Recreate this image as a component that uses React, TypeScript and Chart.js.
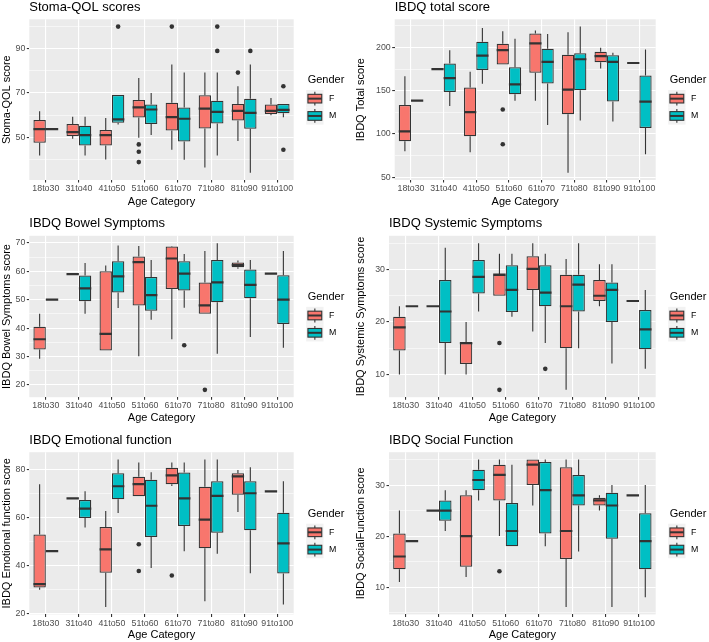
import React, { useEffect, useRef } from "react";
import { Chart, registerables } from "chart.js";

Chart.register(...registerables);

const FAMILY = "'Liberation Sans', Arial, Helvetica, sans-serif";
Chart.defaults.font.family = FAMILY;

const categories = ["18to30", "31to40", "41to50", "51to60", "61to70", "71to80", "81to90", "91to100"];
const genders = ["F", "M"];
const genderColors = ["#F8766D", "#00BFC4"];

// Each row: [lower whisker, Q1, median, Q3, upper whisker], one row per age category
const stomaF = [
  [41.7, 47.4, 53.6, 57.7, 61.7], [49.3, 50.5, 52.3, 55.9, 59.2], [39.9, 46.2, 50.9, 53.2, 58.7], [49.7, 58.9, 63.5, 66.8, 76.8],
  [44.3, 53, 59, 65.5, 82.8], [36.3, 53.9, 62.9, 68.9, 79.2], [48.2, 57.5, 61.9, 65, 73], [59.9, 60.5, 61.9, 64.7, 67.7],
];
const stomaM = [
  [53.6, 53.6, 53.6, 53.6, 53.6], [41.7, 46.2, 50.9, 55.1, 59.2], [55.7, 56.5, 58, 69, 69], [50.9, 55.9, 62.5, 64.7, 70],
  [39.8, 48, 58.3, 63.4, 79.2], [41.7, 56.2, 61.4, 66.5, 79.2], [33.9, 53.8, 61, 67.4, 82.8], [59, 60.8, 62.3, 65, 65],
];
const stomaOutF = [[], [], [], [46.7, 43.4, 38.7], [100], [], [79.2], []];
const stomaOutM = [[], [], [100], [], [], [100, 89], [89], [73, 44.3]];
const stomaMajor = [50, 70, 90];
const stomaMinor = [40, 60, 80, 100];

const totalF = [
  [80.2, 91.6, 103, 133.6, 166.8], [174.8, 174.8, 174.8, 174.8, 174.8], [79, 97.3, 125.2, 153.8, 171.8], [180.2, 180.2, 196.9, 204.2, 218.7],
  [138.5, 170.6, 204.6, 216, 219.5], [55.3, 122.9, 151.3, 191.6, 217.6], [175.6, 182.8, 190, 195, 199.6], [182, 182, 182, 182, 182],
];
const totalM = [
  [138.5, 138.5, 138.5, 138.5, 138.5], [132.4, 148.5, 164.5, 181.3, 196.6], [158, 174, 190.5, 206.5, 222.5], [138.5, 145.8, 157.3, 177.1, 209.9],
  [110.3, 158.4, 183.2, 198.5, 215.6], [115.6, 150.4, 186.3, 193.1, 224], [114.5, 137.4, 183.2, 190.8, 193.9], [76.7, 106.9, 137.4, 167.6, 197.7],
];
const totalOutF = [[], [], [], [128.2, 88.2], [], [], [], []];
const totalOutM = [[], [], [], [], [], [], [], []];
const totalMajor = [50, 100, 150, 200];
const totalMinor = [75, 125, 175, 225];

const bowelF = [
  [29.2, 32.5, 36.1, 40.5, 45.1], [59, 59, 59, 59, 59], [32.1, 32.1, 38, 60, 62], [30.1, 48, 63.2, 65.2, 68.9],
  [36.1, 53.8, 64.5, 68.7, 68.9], [45.1, 45.1, 48, 56.1, 67.1], [60.9, 61.4, 62.2, 63.1, 63.8], [59.2, 59.2, 59.2, 59.2, 59.2],
];
const bowelM = [
  [50, 50, 50, 50, 50], [45.1, 49.5, 54, 58.5, 62.9], [47.1, 52.5, 58.2, 63.5, 69.1], [43, 46.1, 51.6, 58, 64],
  [47.2, 53.2, 59.2, 63.5, 66.1], [31, 49.1, 56.1, 64, 69.9], [36.9, 50.5, 55.2, 60.6, 64], [33.1, 41.5, 50, 58.6, 67.1],
];
const bowelOutF = [[], [], [], [], [], [18.3], [], []];
const bowelOutM = [[], [], [], [], [34], [], [], []];
const bowelMajor = [20, 30, 40, 50, 60, 70];
const bowelMinor = [25, 35, 45, 55, 65];

const systemicF = [
  [10, 14.6, 19, 21, 23], [23, 23, 23, 23, 23], [10, 12, 16, 16, 20], [25, 25, 29, 29, 33],
  [18.2, 26.1, 30.1, 32.5, 35], [7.1, 15, 23, 29, 32], [23, 24, 25, 28, 31], [24, 24, 24, 24, 24],
];
const systemicM = [
  [23, 23, 23, 23, 23], [10, 16, 22, 28, 34.1], [22, 25.4, 28.6, 31.8, 35], [21, 21.9, 26.1, 30.8, 33],
  [16, 23, 25.6, 30.8, 33], [15, 22, 27.1, 29, 35], [12.1, 20, 26.1, 27.5, 31], [11.1, 14.8, 18.6, 22.3, 26.1],
];
const systemicOutF = [[], [], [], [16, 7.1], [], [], [], []];
const systemicOutM = [[], [], [], [], [11.1], [], [], []];
const systemicMajor = [10, 20, 30];
const systemicMinor = [15, 25, 35];

const emotionalF = [
  [30.1, 31, 32.4, 53, 73.9], [68.1, 68.1, 68.1, 68.1, 68.1], [22.9, 37.2, 46.9, 56.2, 62.8], [69, 69, 74, 77.1, 83],
  [73.2, 73.9, 77.6, 80.8, 83], [25.3, 47.3, 59.2, 72.9, 84.2], [62.4, 69.6, 77.2, 78.5, 79.9], [71, 71, 71, 71, 71],
];
const emotionalM = [
  [46.1, 46.1, 46.1, 46.1, 46.1], [56, 59.9, 63.8, 67.4, 71], [62, 67.7, 73.1, 78.5, 84.2], [39.1, 52, 65, 75.8, 78.9],
  [46.1, 56.6, 68.1, 78.8, 83], [45, 53.8, 69.1, 75.2, 84.2], [36.9, 54.8, 70.2, 75.2, 81], [24, 36.8, 49.4, 62.1, 75.2],
];
const emotionalOutF = [[], [], [], [49, 37.9], [36], [], [], []];
const emotionalOutM = [[], [], [], [], [], [], [], []];
const emotionalMajor = [20, 40, 60, 80];
const emotionalMinor = [30, 50, 70];

const socialF = [
  [11, 13.5, 16, 20.5, 25], [25, 25, 25, 25, 25], [12, 14, 20, 28, 29], [20, 27, 32, 34, 35],
  [26, 30, 34, 35, 35], [6.1, 15.5, 21, 33.5, 35], [25, 26, 27, 27.5, 28], [28, 28, 28, 28, 28],
];
const socialM = [
  [19, 19, 19, 19, 19], [21, 23, 25, 27, 29], [27, 29, 31, 33, 35], [18, 18, 21, 26.5, 34],
  [18, 20.5, 29, 34.5, 35], [17, 26, 28, 32, 35], [6.1, 19.5, 26, 28.5, 30], [8, 13.5, 19, 24.5, 30],
];
const socialOutF = [[], [], [], [13.1], [], [], [], []];
const socialOutM = [[], [], [], [], [], [], [], []];
const socialMajor = [10, 20, 30];
const socialMinor = [5, 15, 25, 35];

const panels = [
  { title: "Stoma-QOL scores", yTitle: "Stoma-QOL score", f: stomaF, m: stomaM, outF: stomaOutF, outM: stomaOutM, major: stomaMajor, minor: stomaMinor },
  { title: "IBDQ total score", yTitle: "IBDQ Total score", f: totalF, m: totalM, outF: totalOutF, outM: totalOutM, major: totalMajor, minor: totalMinor },
  { title: "IBDQ Bowel Symptoms", yTitle: "IBDQ Bowel Symptoms score", f: bowelF, m: bowelM, outF: bowelOutF, outM: bowelOutM, major: bowelMajor, minor: bowelMinor },
  { title: "IBDQ Systemic Symptoms", yTitle: "IBDQ Systemic Symptoms score", f: systemicF, m: systemicM, outF: systemicOutF, outM: systemicOutM, major: systemicMajor, minor: systemicMinor },
  { title: "IBDQ Emotional function", yTitle: "IBDQ Emotional function score", f: emotionalF, m: emotionalM, outF: emotionalOutF, outM: emotionalOutM, major: emotionalMajor, minor: emotionalMinor },
  { title: "IBDQ Social Function", yTitle: "IBDQ SocialFunction score", f: socialF, m: socialM, outF: socialOutF, outM: socialOutM, major: socialMajor, minor: socialMinor },
];

// Layout of each panel cell (pixels)
const layouts = [
  { x: 0, y: 0, w: 354, h: 213, left: 29.3, right: 293.7, top: 19.3, bottom: 180, xTitleMid: 201.5 },
  { x: 354, y: 0, w: 355, h: 213, left: 40.7, right: 301.7, top: 19.3, bottom: 180, xTitleMid: 201.5 },
  { x: 0, y: 213, w: 354, h: 214, left: 29.3, right: 293.7, top: 22.8, bottom: 184.2, xTitleMid: 205 },
  { x: 354, y: 213, w: 355, h: 214, left: 35, right: 301.7, top: 22.8, bottom: 184.2, xTitleMid: 205 },
  { x: 0, y: 427, w: 354, h: 215, left: 29.3, right: 293.7, top: 25.2, bottom: 187.4, xTitleMid: 208.5 },
  { x: 354, y: 427, w: 355, h: 215, left: 35, right: 301.7, top: 25.2, bottom: 187.4, xTitleMid: 208.5 },
];

const DODGE = 0.1875;
const INK = "#333333";

const panelBg = {
  id: "panelBg",
  beforeDraw(chart: any) {
    const { ctx, chartArea: a } = chart;
    ctx.save();
    ctx.fillStyle = "#EBEBEB";
    ctx.fillRect(a.left, a.top, a.right - a.left, a.bottom - a.top);
    ctx.restore();
  },
};

const ggLegend = {
  id: "ggLegend",
  afterDraw(chart: any) {
    const { ctx, chartArea: a } = chart;
    const cy = (a.top + a.bottom) / 2;
    const kx = a.right + 12.5;
    const ks = 17.3;
    ctx.save();
    ctx.textAlign = "left";
    ctx.textBaseline = "middle";
    ctx.fillStyle = "#000000";
    ctx.font = `11px ${FAMILY}`;
    ctx.fillText("Gender", kx + 1.5, cy - 19.3);
    genders.forEach((g, j) => {
      const kc = cy - 1 + j * ks;
      const ky = kc - ks / 2;
      ctx.fillStyle = "#F2F2F2";
      ctx.fillRect(kx, ky, ks, ks);
      ctx.strokeStyle = INK;
      ctx.lineWidth = 1.1;
      ctx.beginPath();
      ctx.moveTo(kx + ks / 2, ky + ks * 0.1);
      ctx.lineTo(kx + ks / 2, ky + ks * 0.9);
      ctx.stroke();
      ctx.fillStyle = genderColors[j];
      ctx.fillRect(kx + ks * 0.1, ky + ks * 0.25, ks * 0.8, ks * 0.5);
      ctx.strokeRect(kx + ks * 0.1, ky + ks * 0.25, ks * 0.8, ks * 0.5);
      ctx.lineWidth = 2;
      ctx.beginPath();
      ctx.moveTo(kx + ks * 0.1, kc);
      ctx.lineTo(kx + ks * 0.9, kc);
      ctx.stroke();
      ctx.fillStyle = "#000000";
      ctx.font = `8.8px ${FAMILY}`;
      ctx.fillText(g, kx + ks + 5.5, kc);
    });
    ctx.restore();
  },
};

function buildConfig(p: any, lay: any) {
  const all = [...p.f.flat(), ...p.m.flat(), ...p.outF.flat(), ...p.outM.flat()];
  const lo = Math.min(...all);
  const hi = Math.max(...all);
  const ex = (hi - lo) * 0.05;
  const ymin = lo - ex;
  const ymax = hi + ex;
  const tickValues = [...p.major, ...p.minor].filter((v) => v >= ymin && v <= ymax).sort((a, b) => a - b);
  const isMajor = (v: number) => p.major.includes(v);

  const boxes = (s: number[][], off: number) => s.map((r, i) => ({ x: i + off, y: [r[1], r[3]] }));
  const whiskers = (s: number[][], off: number) =>
    s.flatMap((r, i) => [
      { x: i + off, y: r[0] }, { x: i + off, y: r[1] }, { x: i + off, y: null },
      { x: i + off, y: r[3] }, { x: i + off, y: r[4] }, { x: i + off, y: null },
    ]);
  const medians = (s: number[][], off: number) =>
    s.flatMap((r, i) => [
      { x: i + off - DODGE, y: r[2] }, { x: i + off + DODGE, y: r[2] }, { x: i + off, y: null },
    ]);
  const outliers = [
    ...p.outF.flatMap((o: number[], i: number) => o.map((v) => ({ x: i - DODGE, y: v }))),
    ...p.outM.flatMap((o: number[], i: number) => o.map((v) => ({ x: i + DODGE, y: v }))),
  ];

  const padTop = Math.max(0, lay.top - 19.8);
  const titlePadBottom = lay.top - padTop - 15.6;
  const xh = lay.h - lay.bottom;
  const xTitlePad = Math.max(0, lay.h - 6.6 - lay.xTitleMid);

  const lineDs = (label: string, data: any[], width: number, order: number) => ({
    type: "line",
    label,
    data,
    xAxisID: "x2",
    yAxisID: "y",
    borderColor: INK,
    borderWidth: width,
    pointRadius: 0,
    pointHitRadius: 0,
    spanGaps: false,
    fill: false,
    tension: 0,
    order,
  });

  const boxDs = (label: string, data: any[], color: string) => ({
    type: "bar",
    label,
    data,
    xAxisID: "x2",
    yAxisID: "y",
    backgroundColor: color,
    borderColor: INK,
    borderWidth: 1.25,
    borderSkipped: false,
    grouped: false,
    categoryPercentage: 1,
    barPercentage: 1,
    inflateAmount: 0,
    order: 3,
  });

  return {
    type: "bar",
    data: {
      labels: categories,
      datasets: [
        boxDs("F", boxes(p.f, -DODGE), genderColors[0]),
        boxDs("M", boxes(p.m, DODGE), genderColors[1]),
        lineDs("whiskers F", whiskers(p.f, -DODGE), 1.1, 4),
        lineDs("whiskers M", whiskers(p.m, DODGE), 1.1, 4),
        lineDs("median F", medians(p.f, -DODGE), 2.2, 1),
        lineDs("median M", medians(p.m, DODGE), 2.2, 1),
        {
          type: "line", label: "outliers", data: outliers, xAxisID: "x2", yAxisID: "y", showLine: false,
          pointRadius: 2.3, pointBackgroundColor: INK, pointBorderColor: INK, pointBorderWidth: 0, order: 0,
        },
      ],
    },
    options: {
      responsive: false,
      animation: false,
      events: [],
      layout: { padding: { top: padTop, left: 0, right: lay.w - lay.right, bottom: 0 } },
      plugins: {
        legend: { display: false },
        tooltip: { enabled: false },
        title: {
          display: true, text: p.title, align: "start", fullSize: false, color: "#000000",
          font: { size: 13, weight: "normal", family: FAMILY, lineHeight: 1.2 },
          padding: { top: 0, bottom: titlePadBottom },
        },
      },
      scales: {
        x: {
          type: "category",
          offset: true,
          afterFit: (s: any) => { s.height = xh; },
          grid: { offset: false, color: "#FFFFFF", lineWidth: 1.1, tickLength: 2.5, tickColor: INK, drawTicks: true },
          border: { display: false },
          ticks: { color: "#4D4D4D", font: { size: 8.8, family: FAMILY }, padding: 1, maxRotation: 0, minRotation: 0, autoSkip: false },
          title: { display: true, text: "Age Category", color: "#000000", font: { size: 11, family: FAMILY, lineHeight: 1.2 }, padding: { top: 0, bottom: xTitlePad } },
        },
        x2: {
          type: "linear",
          display: false,
          min: -0.5,
          max: categories.length - 0.5,
          offset: false,
          afterBuildTicks: (s: any) => { s.ticks = categories.map((_, i) => ({ value: i })); },
        },
        y: {
          type: "linear",
          min: ymin,
          max: ymax,
          afterBuildTicks: (s: any) => { s.ticks = tickValues.map((v) => ({ value: v })); },
          afterFit: (s: any) => { s.width = lay.left; },
          grid: {
            color: "#FFFFFF",
            lineWidth: (c: any) => (c.tick && isMajor(c.tick.value) ? 1.1 : 0.55),
            tickColor: (c: any) => (c.tick && isMajor(c.tick.value) ? INK : "rgba(0,0,0,0)"),
            tickLength: 2.5,
            drawTicks: true,
          },
          border: { display: false },
          ticks: {
            autoSkip: false, padding: 1.5, color: "#4D4D4D", font: { size: 8.8, family: FAMILY },
            callback: (v: any) => (isMajor(v) ? String(v) : ""),
          },
          title: { display: true, text: p.yTitle, color: "#000000", font: { size: 11, family: FAMILY, lineHeight: 1.2 }, padding: { top: 0, bottom: 0 } },
        },
      },
    },
    plugins: [panelBg, ggLegend],
  };
}

function Panel({ p, lay }: { p: any; lay: any }) {
  const ref = useRef<HTMLCanvasElement | null>(null);
  useEffect(() => {
    if (!ref.current) return;
    const chart = new Chart(ref.current, buildConfig(p, lay) as any);
    return () => chart.destroy();
  }, [p, lay]);
  return (
    <canvas
      ref={ref}
      width={lay.w}
      height={lay.h}
      style={{ position: "absolute", left: lay.x, top: lay.y, width: lay.w, height: lay.h }}
    />
  );
}

export default function App() {
  return (
    <div style={{ position: "absolute", left: 0, top: 0, width: 709, height: 642, background: "#FFFFFF" }}>
      {panels.map((p, i) => (
        <Panel key={i} p={p} lay={layouts[i]} />
      ))}
    </div>
  );
}
